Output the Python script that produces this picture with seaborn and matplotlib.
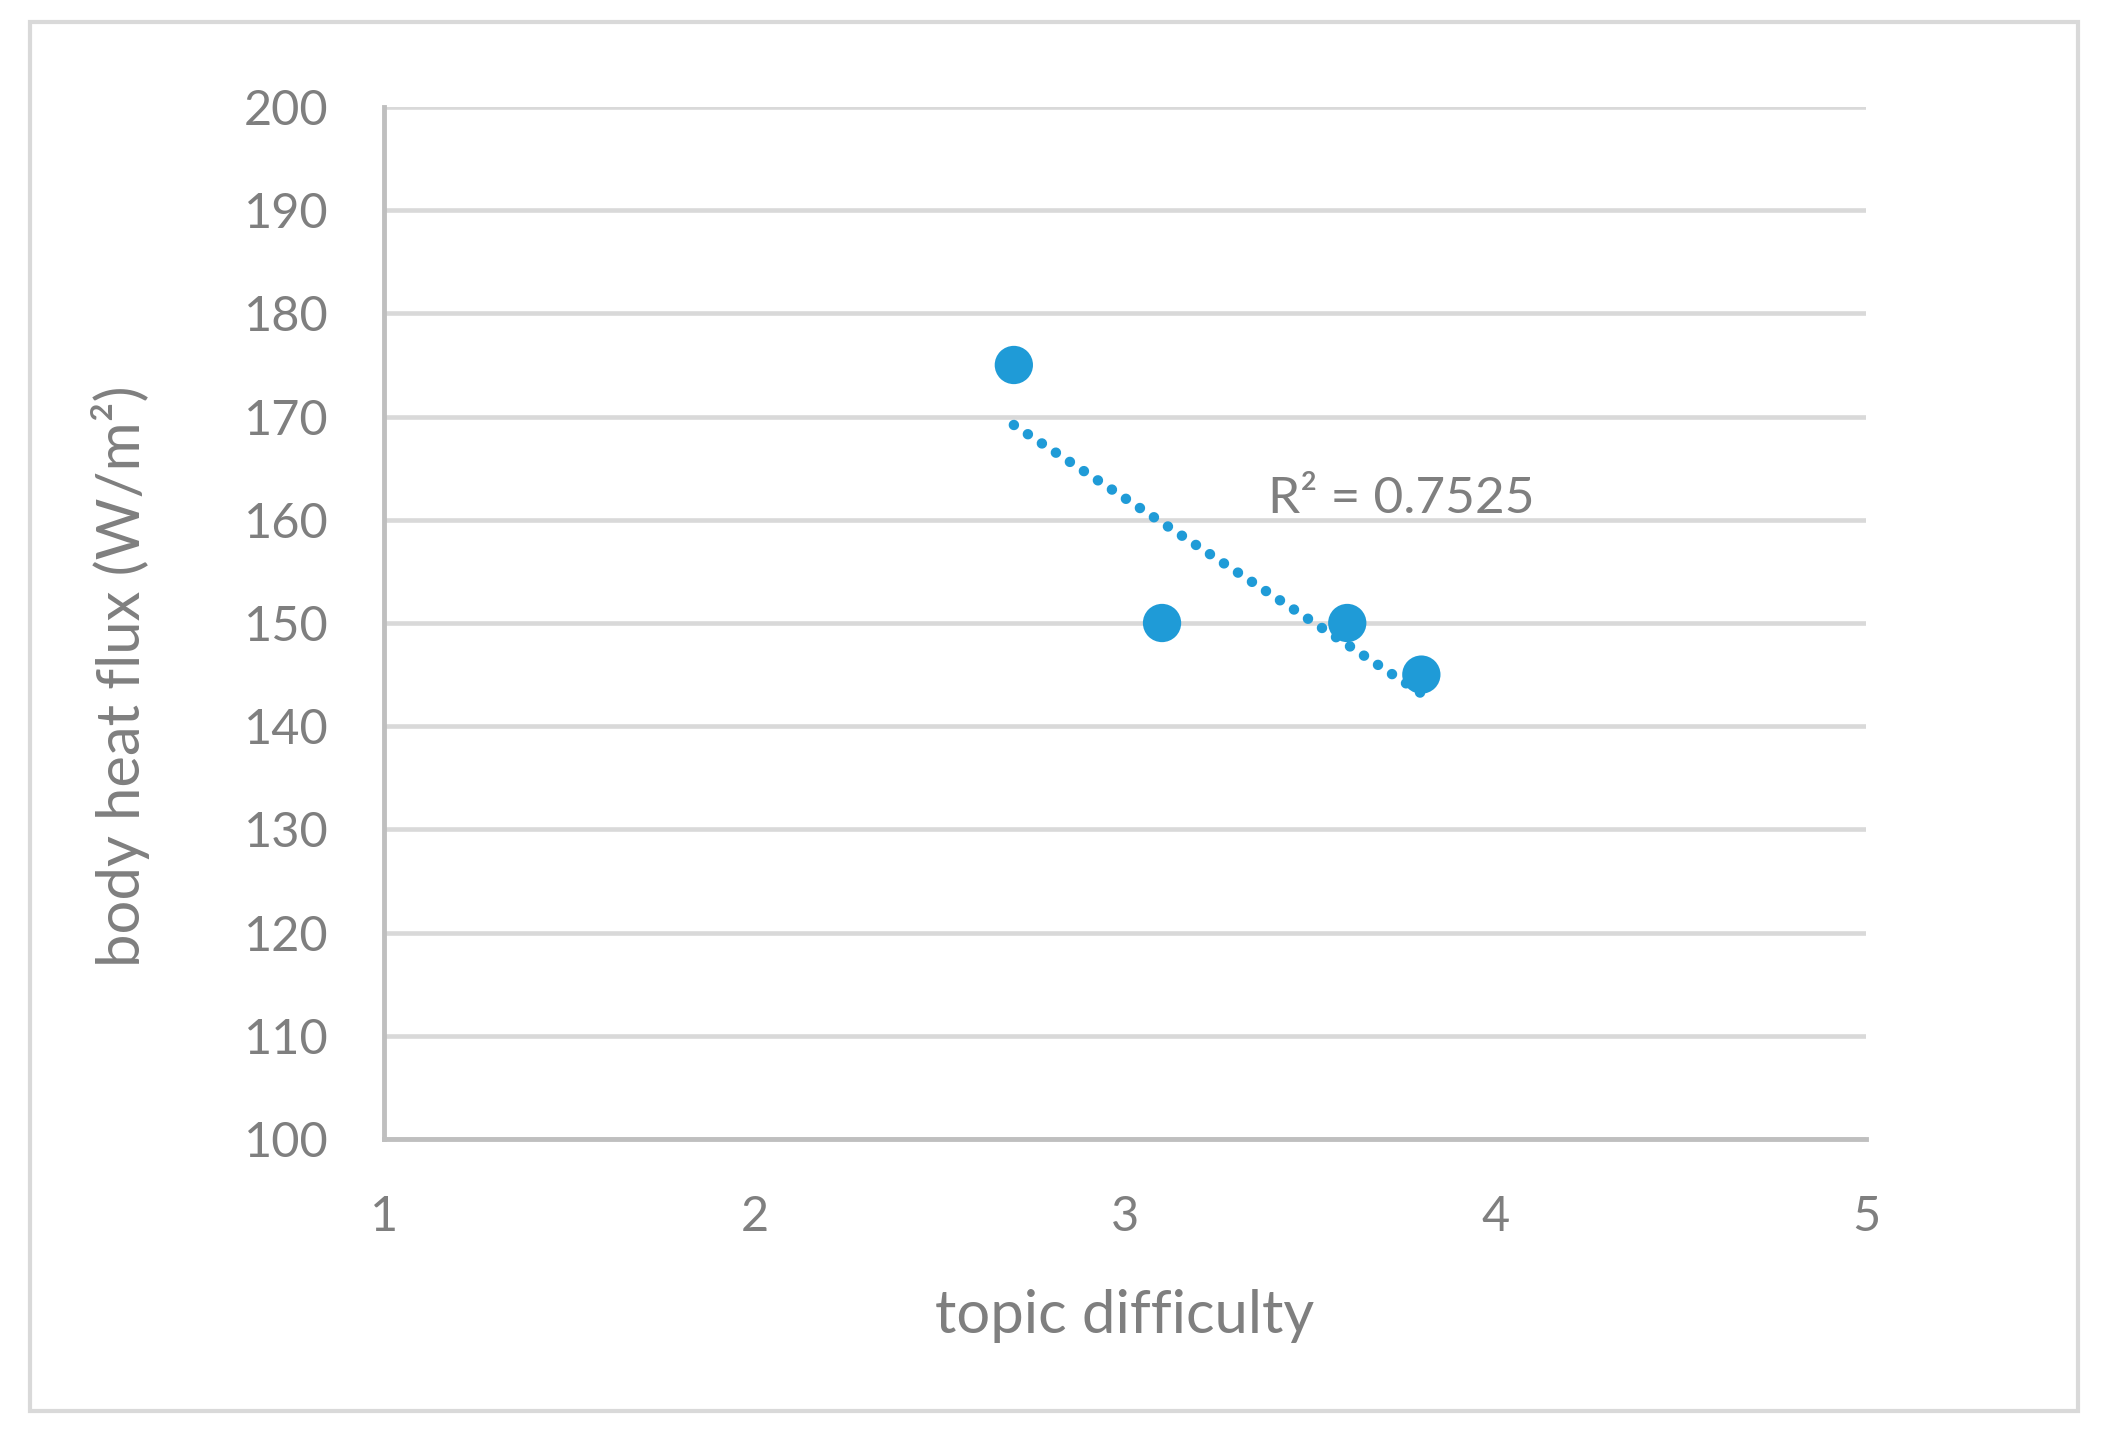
import seaborn as sns
import matplotlib.pyplot as plt
import matplotlib.patches as patches
import pandas as pd
import numpy as np

# Data
topic_difficulty = [2.7, 3.1, 3.6, 3.8]
heat_flux = [175, 150, 150, 145]
x_ticks = [1, 2, 3, 4, 5]
y_ticks = [100, 110, 120, 130, 140, 150, 160, 170, 180, 190, 200]

df = pd.DataFrame({'topic difficulty': topic_difficulty, 'heat flux': heat_flux})

# R squared of the linear trendline
r2 = np.corrcoef(df['topic difficulty'], df['heat flux'])[0, 1] ** 2

sns.set_style('white')
plt.rcParams['font.family'] = ['Lato', 'DejaVu Sans']

blue = '#1F9BD7'
gray_text = '#7F7F7F'

fig = plt.figure(figsize=(21.01, 14.34), dpi=100)
ax = fig.add_axes([0.1828, 0.2057, 0.7053, 0.7197])

# Trendline (dotted, linear)
sns.regplot(data=df, x='topic difficulty', y='heat flux', ax=ax, ci=None,
            scatter=False,
            line_kws=dict(color=blue, lw=7.5, linestyle=(0, (0.01, 1.6)),
                          dash_capstyle='round', zorder=3))

# Points
sns.scatterplot(data=df, x='topic difficulty', y='heat flux', ax=ax,
                s=760, color=blue, edgecolor='none', zorder=4)

ax.set_xlim(1, 5)
ax.set_ylim(100, 200)
ax.set_xticks(x_ticks)
ax.set_yticks(y_ticks)

ax.grid(axis='y', color='#D9D9D9', lw=3.3)
ax.grid(axis='x', visible=False)
ax.set_axisbelow(True)

for side in ['top', 'right']:
    ax.spines[side].set_visible(False)
for side in ['left', 'bottom']:
    ax.spines[side].set_color('#BFBFBF')
    ax.spines[side].set_linewidth(3.5)

ax.tick_params(axis='both', length=0, labelsize=35, labelcolor=gray_text, pad=40)

ax.set_xlabel('topic difficulty', fontsize=43, color=gray_text)
ax.set_ylabel('body heat flux (W/m²)', fontsize=43, color=gray_text)
ax.xaxis.set_label_coords(0.5, -0.145)
ax.yaxis.set_label_coords(-0.158, 0.448)

ax.text(3.385, 162, f'R² = {r2:.4f}', fontsize=37, color=gray_text,
        ha='left', va='center')

# Chart area border
fig.patches.append(patches.Rectangle((30 / 2101, 1 - 1411 / 1434),
                                     (2078 - 30) / 2101, (1411 - 22) / 1434,
                                     transform=fig.transFigure, fill=False,
                                     edgecolor='#D9D9D9', lw=3))

plt.savefig('out.png', dpi=100)
plt.close()
